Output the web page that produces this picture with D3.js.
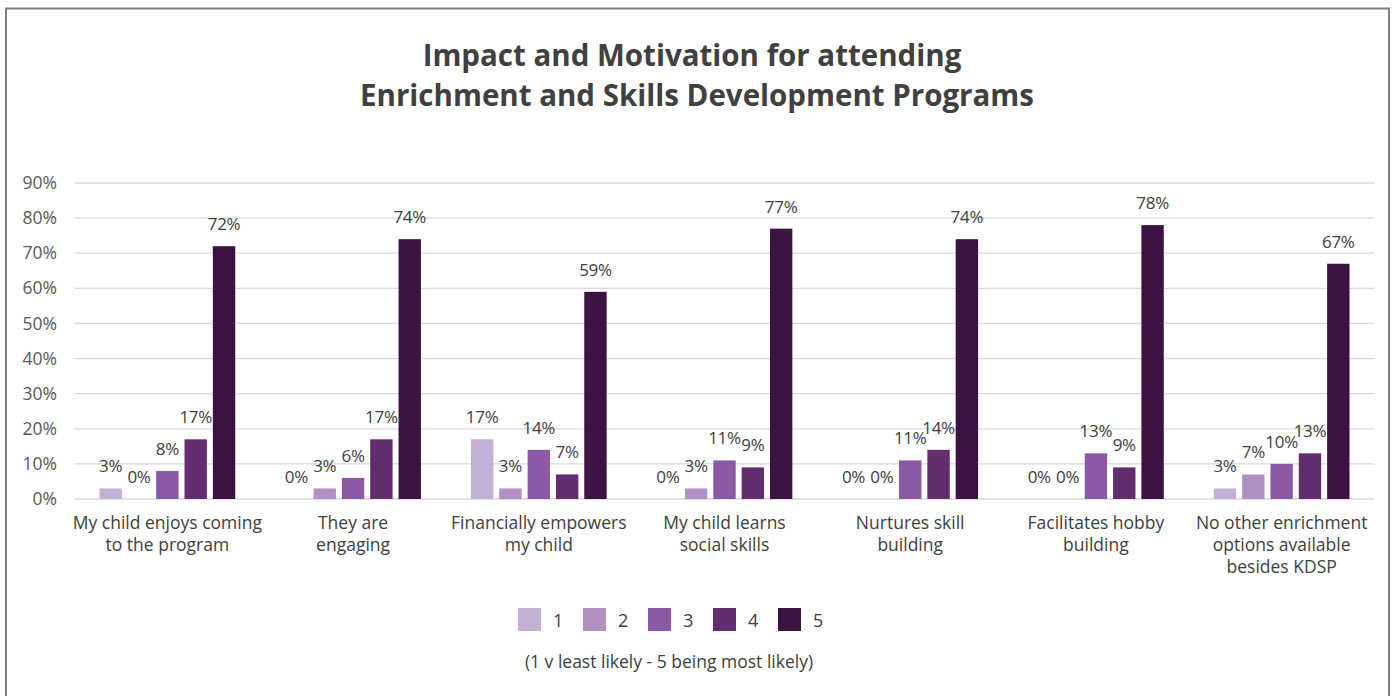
<!DOCTYPE html>
<html>
<head>
<meta charset="utf-8">
<script src="https://cdn.jsdelivr.net/npm/d3@7"></script>
<style>
  body { margin: 0; background: #fff; }
  text { font-family: "Open Sans", Lato, sans-serif; }
</style>
</head>
<body>
<div id="chart"></div>
<script>
// categories (each split into display lines)
const categories = [
  ["My child enjoys coming", "to the program"],
  ["They are", "engaging"],
  ["Financially empowers", "my child"],
  ["My child learns", "social skills"],
  ["Nurtures skill", "building"],
  ["Facilitates hobby", "building"],
  ["No other enrichment", "options available", "besides KDSP"]
];
const seriesNames = ["1", "2", "3", "4", "5"];
// percent per series, one entry per category
const s1 = [3, 0, 17, 0, 0, 0, 3];
const s2 = [0, 3, 3, 3, 0, 0, 7];
const s3 = [8, 6, 14, 11, 11, 13, 10];
const s4 = [17, 17, 7, 9, 14, 9, 13];
const s5 = [72, 74, 59, 77, 74, 78, 67];
const yTicks = [0, 10, 20, 30, 40, 50, 60, 70, 80, 90];
const colors = ["#c5b0d5", "#b290c4", "#8c59a4", "#622c6f", "#3c1245"];

const series = [s1, s2, s3, s4, s5];

//SVG setup
const W = 1394, H = 696;
const svg = d3.select("#chart").append("svg")
    .attr("width", W)
    .attr("height", H);

// frame round the chart
svg.append("rect")
    .attr("x", 6).attr("y", 8.5)
    .attr("width", 1383).attr("height", 720)
    .attr("fill", "none")
    .attr("stroke", "#7f7f7f")
    .attr("stroke-width", 2);

//title
const title = svg.append("text")
    .attr("text-anchor", "middle")
    .attr("fill", "#404040")
    .style("font-size", "29.5px")
    .style("font-weight", "bold");
title.append("tspan").attr("x", 692).attr("y", 66).text("Impact and Motivation for attending");
title.append("tspan").attr("x", 697).attr("y", 106).text("Enrichment and Skills Development Programs");

//scales
const plotLeft = 74.5, plotRight = 1374.5;
const y = d3.scaleLinear().domain([0, 90]).range([499, 183]);
const x0 = d3.scaleBand()
    .domain(d3.range(categories.length))
    .range([plotLeft, plotRight]);
const x1 = d3.scaleBand()
    .domain(d3.range(seriesNames.length))
    .range([25, x0.bandwidth() - 25])
    .paddingInner(0.21);

//gridlines + y labels
svg.append("g").selectAll("line")
  .data(yTicks)
  .enter().append("line")
    .attr("x1", plotLeft).attr("x2", plotRight)
    .attr("y1", d => y(d)).attr("y2", d => y(d))
    .attr("stroke", "#d9d9d9")
    .attr("stroke-width", 1.3);

svg.append("g").selectAll("text")
  .data(yTicks)
  .enter().append("text")
    .attr("x", 57)
    .attr("y", d => y(d))
    .attr("dy", "0.35em")
    .attr("text-anchor", "end")
    .attr("fill", "#595959")
    .style("font-size", "17.5px")
    .text(d => d + "%");

//bars
const groups = svg.append("g").selectAll("g")
  .data(categories.map((c, i) => i))
  .enter().append("g")
    .attr("transform", i => `translate(${x0(i)},0)`);

const cells = groups.selectAll("g")
  .data(i => series.map((s, k) => ({k: k, v: s[i]})))
  .enter().append("g");

cells.append("rect")
    .attr("x", d => x1(d.k))
    .attr("width", x1.bandwidth())
    .attr("y", d => y(d.v))
    .attr("height", d => y(0) - y(d.v))
    .attr("fill", d => colors[d.k]);

// value labels, kept a touch tight so neighbours (10% 13%) just meet
cells.append("text")
    .attr("x", d => x1(d.k) + x1.bandwidth() / 2)
    .attr("y", d => y(d.v) - 16)
    .attr("text-anchor", "middle")
    .attr("fill", "#404040")
    .style("font-size", "17px")
    .style("letter-spacing", "-0.3px")
    .text(d => d.v + "%");

//category labels
const catLabels = svg.append("g").selectAll("text")
  .data(categories)
  .enter().append("text")
    .attr("text-anchor", "middle")
    .attr("fill", "#404040")
    .style("font-size", "17.5px");
catLabels.selectAll("tspan")
  .data((d, i) => d.map(line => ({line: line, i: i})))
  .enter().append("tspan")
    .attr("x", d => x0(d.i) + x0.bandwidth() / 2)
    .attr("y", (d, j) => 529 + j * 22)
    .text(d => d.line);

//legend
const legend = svg.append("g").selectAll("g")
  .data(seriesNames)
  .enter().append("g")
    .attr("transform", (d, i) => `translate(${518 + i * 65},608)`);
legend.append("rect")
    .attr("width", 23).attr("height", 23)
    .attr("fill", (d, i) => colors[i]);
legend.append("text")
    .attr("x", 35).attr("y", 19)
    .attr("fill", "#404040")
    .style("font-size", "18px")
    .text(d => d);

svg.append("text")
    .attr("x", 669).attr("y", 668)
    .attr("text-anchor", "middle")
    .attr("fill", "#404040")
    .style("font-size", "17.5px")
    .text("(1 v least likely - 5 being most likely)");
</script>
</body>
</html>
